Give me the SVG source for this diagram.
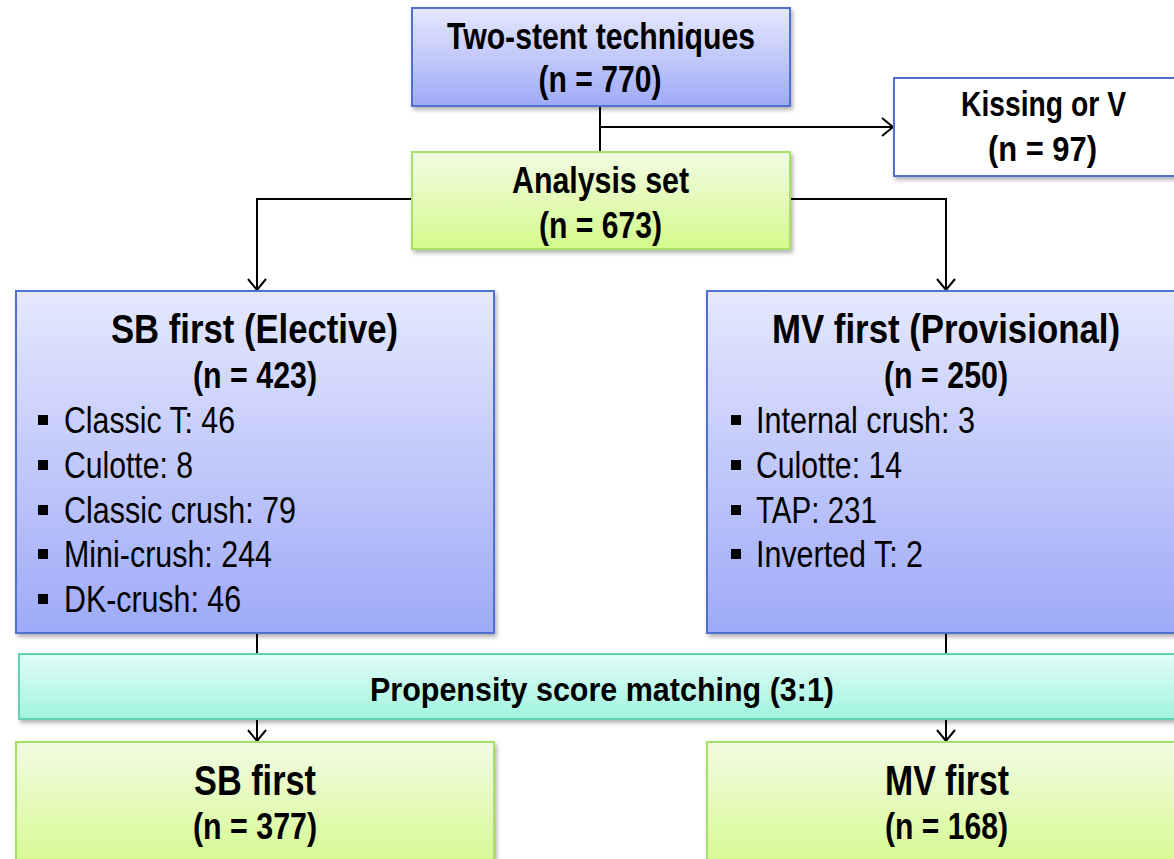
<svg xmlns="http://www.w3.org/2000/svg" width="1174" height="859" viewBox="0 0 1174 859">
<style>
.t{font-family:"Liberation Sans Narrow","Arial Narrow","Liberation Sans",Arial,sans-serif;fill:#000;text-anchor:middle;}
.b{font-weight:bold;}
.l{text-anchor:start;font-weight:normal;}
.blue{fill:url(#gBlue);stroke:#4f6fd0;stroke-width:2;filter:url(#sh);}
.green{fill:url(#gGreen);stroke:#a6e165;stroke-width:2;filter:url(#sh);}
.teal{fill:url(#gTeal);stroke:#62d2b4;stroke-width:2;filter:url(#sh);}
.white{fill:#fff;stroke:#4f6fd0;stroke-width:2;filter:url(#sh);}
.c{fill:none;stroke:#000;stroke-width:2;}
.a{marker-end:url(#arr);}
</style>
<defs>
<linearGradient id="gBlue" x1="0" y1="0" x2="0" y2="1"><stop offset="0" stop-color="#e5e8fd"/><stop offset="1" stop-color="#9eaaf8"/></linearGradient>
<linearGradient id="gGreen" x1="0" y1="0" x2="0" y2="1"><stop offset="0" stop-color="#f2fbe3"/><stop offset="1" stop-color="#d4fa8c"/></linearGradient>
<linearGradient id="gTeal" x1="0" y1="0" x2="0" y2="1"><stop offset="0" stop-color="#e3fcf7"/><stop offset="1" stop-color="#9ff4de"/></linearGradient>
<filter id="sh" x="-5%" y="-10%" width="110%" height="125%"><feDropShadow dx="2" dy="3" stdDeviation="2" flood-color="#000" flood-opacity="0.3"/></filter>
<marker id="arr" markerUnits="userSpaceOnUse" markerWidth="14" markerHeight="22" refX="12" refY="10" orient="auto"><path d="M1,1 L12,10 L1,19" fill="none" stroke="#000" stroke-width="2"/></marker>
</defs>

<g id="connectors">
<path class="c" d="M600,106 V152"/>
<path class="c a" d="M600,127 H893"/>
<path class="c a" d="M412,199 H257 V290"/>
<path class="c a" d="M790,199 H946 V290"/>
<path class="c" d="M257,633 V654"/>
<path class="c a" d="M257,719 V741"/>
<path class="c" d="M946,633 V654"/>
<path class="c a" d="M946,719 V741"/>
</g>

<g id="node-two-stent">
<rect class="blue" x="412" y="8" width="378" height="98"/>
<text class="t b" x="601" y="49" font-size="36" textLength="308" lengthAdjust="spacingAndGlyphs">Two-stent techniques</text>
<text class="t b" x="600" y="92" font-size="36" textLength="123" lengthAdjust="spacingAndGlyphs">(n = 770)</text>
</g>

<g id="node-kissing">
<rect class="white" x="894" y="78" width="300" height="98"/>
<text class="t b" x="1043.5" y="116" font-size="35" textLength="165" lengthAdjust="spacingAndGlyphs">Kissing or V</text>
<text class="t b" x="1042.5" y="161" font-size="35" textLength="109" lengthAdjust="spacingAndGlyphs">(n = 97)</text>
</g>

<g id="node-analysis">
<rect class="green" x="412" y="152" width="378" height="97"/>
<text class="t b" x="600.5" y="193" font-size="36" textLength="177" lengthAdjust="spacingAndGlyphs">Analysis set</text>
<text class="t b" x="600.5" y="238" font-size="36" textLength="123" lengthAdjust="spacingAndGlyphs">(n = 673)</text>
</g>

<g id="node-sb-elective">
<rect class="blue" x="16" y="291" width="478" height="342"/>
<text class="t b" x="254.5" y="343" font-size="41" textLength="287" lengthAdjust="spacingAndGlyphs">SB first (Elective)</text>
<text class="t b" x="255" y="388" font-size="36" textLength="124" lengthAdjust="spacingAndGlyphs">(n = 423)</text>
<rect x="38" y="415" width="10" height="10"/>
<text class="t l" x="64" y="433" font-size="36" textLength="171" lengthAdjust="spacingAndGlyphs">Classic T: 46</text>
<rect x="38" y="460" width="10" height="10"/>
<text class="t l" x="64" y="478" font-size="36" textLength="129" lengthAdjust="spacingAndGlyphs">Culotte: 8</text>
<rect x="38" y="505" width="10" height="10"/>
<text class="t l" x="64" y="523" font-size="36" textLength="232" lengthAdjust="spacingAndGlyphs">Classic crush: 79</text>
<rect x="38" y="549" width="10" height="10"/>
<text class="t l" x="64" y="567" font-size="36" textLength="208" lengthAdjust="spacingAndGlyphs">Mini-crush: 244</text>
<rect x="38" y="594" width="10" height="10"/>
<text class="t l" x="64" y="612" font-size="36" textLength="177" lengthAdjust="spacingAndGlyphs">DK-crush: 46</text>
</g>

<g id="node-mv-provisional">
<rect class="blue" x="707" y="291" width="478" height="342"/>
<text class="t b" x="946" y="343" font-size="40" textLength="348" lengthAdjust="spacingAndGlyphs">MV first (Provisional)</text>
<text class="t b" x="946" y="388" font-size="36" textLength="124" lengthAdjust="spacingAndGlyphs">(n = 250)</text>
<rect x="731" y="415" width="10" height="10"/>
<text class="t l" x="756" y="433" font-size="36" textLength="219" lengthAdjust="spacingAndGlyphs">Internal crush: 3</text>
<rect x="731" y="460" width="10" height="10"/>
<text class="t l" x="756" y="478" font-size="36" textLength="146" lengthAdjust="spacingAndGlyphs">Culotte: 14</text>
<rect x="731" y="505" width="10" height="10"/>
<text class="t l" x="756" y="523" font-size="36" textLength="121" lengthAdjust="spacingAndGlyphs">TAP: 231</text>
<rect x="731" y="549" width="10" height="10"/>
<text class="t l" x="756" y="567" font-size="36" textLength="167" lengthAdjust="spacingAndGlyphs">Inverted T: 2</text>
</g>

<g id="node-psm">
<rect class="teal" x="19" y="654" width="1168" height="65"/>
<text class="t b" x="602" y="701" font-size="33" textLength="464" lengthAdjust="spacingAndGlyphs">Propensity score matching (3:1)</text>
</g>

<g id="node-sb-first">
<rect class="green" x="16" y="742" width="478" height="130"/>
<text class="t b" x="255" y="795" font-size="42" textLength="122" lengthAdjust="spacingAndGlyphs">SB first</text>
<text class="t b" x="255" y="839" font-size="36" textLength="124" lengthAdjust="spacingAndGlyphs">(n = 377)</text>
</g>

<g id="node-mv-first">
<rect class="green" x="707" y="742" width="478" height="130"/>
<text class="t b" x="947" y="795" font-size="42" textLength="124" lengthAdjust="spacingAndGlyphs">MV first</text>
<text class="t b" x="946.5" y="839" font-size="36" textLength="123" lengthAdjust="spacingAndGlyphs">(n = 168)</text>
</g>
</svg>
